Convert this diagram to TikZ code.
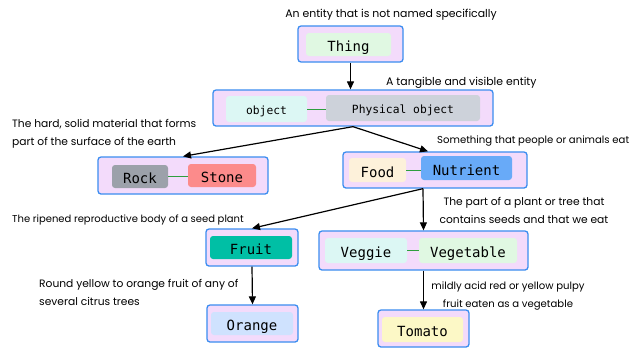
\documentclass[tikz,border=0pt]{standalone}
\usepackage{fontspec}
\setmainfont{Poppins}
\setmonofont{DejaVu Sans Mono}
\usetikzlibrary{arrows.meta}
\definecolor{boxfill}{HTML}{F3DBFB}
\definecolor{boxline}{HTML}{3B8DF0}
\definecolor{linkgreen}{HTML}{2E9E3E}
\definecolor{cMint}{HTML}{E0F8E2}
\definecolor{cAqua}{HTML}{DCF7F4}
\definecolor{cSlate}{HTML}{CDD2DA}
\definecolor{cGray}{HTML}{9CA1AA}
\definecolor{cSalmon}{HTML}{FC8B8B}
\definecolor{cCream}{HTML}{FDF1DA}
\definecolor{cBlue}{HTML}{68AAF8}
\definecolor{cTeal}{HTML}{00BFA5}
\definecolor{cIce}{HTML}{CFE2FE}
\definecolor{cLemon}{HTML}{FCF8C6}
\begin{document}
\begin{tikzpicture}[x=1pt,y=-1pt,
  outer/.style={draw=boxline,fill=boxfill,line width=1.3pt,rounded corners=3pt,inner sep=0pt},
  inner/.style={fill=#1,rounded corners=3pt,inner sep=0pt,text height=14pt,text depth=0pt,
    font=\ttfamily\fontsize{14}{16}\selectfont},
  smallchip/.style={text height=10.5pt,font=\ttfamily\fontsize{11.3}{13}\selectfont},
  link/.style={draw=linkgreen,line width=1pt},
  arr/.style={draw=black,line width=1.2pt,-{Triangle[length=8pt,width=7pt]}},
  lbl/.style={font=\fontsize{10.9}{18.5}\selectfont,inner sep=0pt,align=#1},
  lbl/.default=left,
  fs/.style={font=\fontsize{#1}{18.5}\selectfont}]
\useasboundingbox (0,0) rectangle (640,349);
\fill[white] (0,0) rectangle (640,349);

% outer frames
\node[outer,minimum width=105pt,minimum height=36pt] (thing) at (350.5,44) {};
\node[outer,minimum width=280pt,minimum height=36pt] (phys) at (353,108) {};
\node[outer,minimum width=170pt,minimum height=37pt] (rock) at (183,175.5) {};
\node[outer,minimum width=184pt,minimum height=36pt] (food) at (435,170) {};
\node[outer,minimum width=92pt,minimum height=37pt] (fruit) at (252,247.5) {};
\node[outer,minimum width=209pt,minimum height=39pt] (veg) at (423.5,250.5) {};
\node[outer,minimum width=91pt,minimum height=37pt] (orange) at (252.5,323.5) {};
\node[outer,minimum width=91pt,minimum height=37pt] (tomato) at (423.5,328.5) {};

% term chips
\node[inner=cMint,minimum width=85pt,minimum height=23pt] (thingIn) at (348.5,44.5) {Thing};
\node[inner=cAqua,minimum width=81pt,minimum height=26pt,smallchip] (objIn) at (266.5,109) {object};
\node[inner=cSlate,minimum width=154pt,minimum height=26pt,smallchip] (physIn) at (403,108) {Physical object};
\node[inner=cGray,minimum width=56pt,minimum height=23pt] (rockIn) at (140,176.5) {Rock};
\node[inner=cSalmon,minimum width=68pt,minimum height=23pt] (stoneIn) at (222,175.5) {Stone};
\node[inner=cCream,minimum width=57pt,minimum height=24pt] (foodIn) at (377.5,170) {Food};
\node[inner=cBlue,minimum width=91pt,minimum height=24pt] (nutIn) at (466.5,168) {Nutrient};
\node[inner=cTeal,minimum width=82pt,minimum height=23pt] (fruitIn) at (251,247.5) {Fruit};
\node[inner=cAqua,minimum width=82pt,minimum height=25pt] (veggieIn) at (366,250.5) {Veggie};
\node[inner=cMint,minimum width=98pt,minimum height=25pt] (vegetIn) at (468,250.5) {Vegetable};
\node[inner=cIce,minimum width=82pt,minimum height=23pt] (orangeIn) at (252,323.5) {Orange};
\node[inner=cLemon,minimum width=81pt,minimum height=25pt] (tomatoIn) at (422.5,329.5) {Tomato};

% synonym links
\draw[link] (objIn.east) -- (physIn.west |- objIn.east);
\draw[link] (rockIn.east) -- (stoneIn.west |- rockIn.east);
\draw[link] (foodIn.east) -- (nutIn.west |- foodIn.east);
\draw[link] (veggieIn.east) -- (vegetIn.west);

% hierarchy arrows
\draw[arr] (thing.south) -- (thing.south |- phys.north);
\draw[arr] (phys.south) -- (rock.north);
\draw[arr] (phys.south) -- ([xshift=-7pt]food.north);
\draw[arr] ([xshift=-12pt]food.south) -- (fruit.north);
\draw[arr] ([xshift=-12pt]food.south) -- (veg.north);
\draw[arr] (fruit.south) -- (orange.north);
\draw[arr] (veg.south) -- (tomato.north);

% definitions
\node[lbl=center] (dThing) at (391,15) {An entity that is not named specifically};
\node[lbl,anchor=west] (dPhys) at (386,83) {A tangible and visible entity};
\node[lbl,anchor=west,fs=10.7] (dRock) at (12,134) {The hard, solid material that forms\\part of the surface of the earth};
\node[lbl,anchor=west,fs=10.1] (dFood) at (437,141) {Something that people or animals eat};
\node[lbl=center,fs=10.7] (dVeg) at (524,210.5) {The part of a plant or tree that\\contains seeds and that we eat};
\node[lbl,anchor=west,fs=10.0] (dFruit) at (12,220) {The ripened reproductive body of a seed plant};
\node[lbl,anchor=west,fs=10.7] (dOrange) at (39,292.5) {Round yellow to orange fruit of any of\\several citrus trees};
\node[lbl=center,fs=10.1] (dTomato) at (508,296) {mildly acid red or yellow pulpy\\fruit eaten as a vegetable};
\end{tikzpicture}
\end{document}
